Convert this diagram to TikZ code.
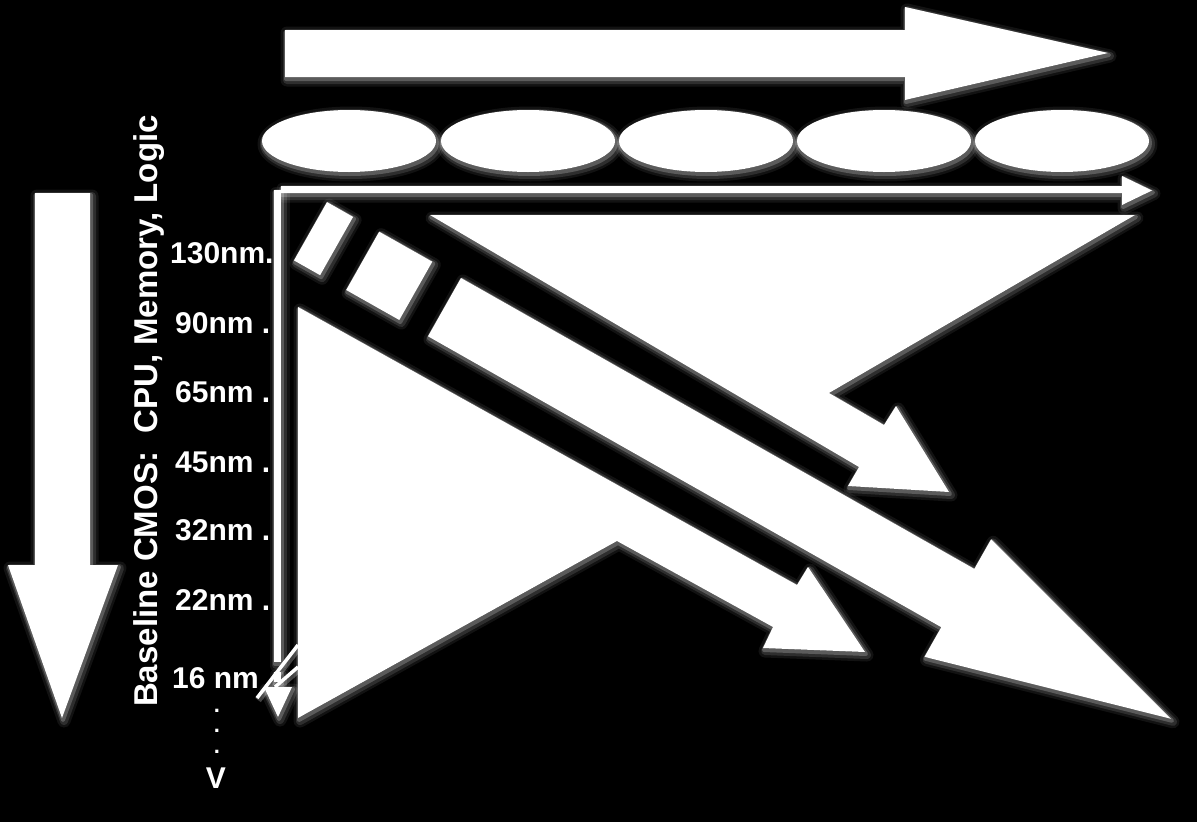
\documentclass[tikz,border=0pt]{standalone}
\usepackage{fontspec}
\setmainfont{Liberation Sans}
\usetikzlibrary{shapes.geometric}
\newcommand\myshapes[1]{%
  % top block arrow
  \path[#1] (285,30) -- (905,30) -- (905,7) -- (1108,53) -- (905,100) -- (905,77) -- (285,77) -- cycle;
  % left block arrow
  \path[#1] (35,193) -- (90,193) -- (90,565) -- (118,565) -- (62,718) -- (8,565) -- (35,565) -- cycle;
  % ellipses
  \foreach \cx in {349,528,706,884,1062}{\path[#1] (\cx,141) ellipse [x radius=87, y radius=31];}
  % horizontal axis arrow
  \path[#1] (281,186) -- (1122,186) -- (1122,176) -- (1152,190.5) -- (1122,205) -- (1122,193) -- (281,193) -- cycle;
  % vertical axis arrow
  \path[#1] (274,190) rectangle (281,662);
  \path[#1] (274,672) rectangle (281,682);
  \path[#1] (264,687) -- (292,687) -- (278,717) -- cycle;
  % upper region with arrow A
  \path[#1] (430,215) -- (1135,215) -- (829,393) -- (884,425) -- (896,406) -- (949,492) -- (848,486) -- (859,467) -- cycle;
  % dashes of arrow C
  \path[#1] (327.0,202.1) -- (353.1,216.9) -- (320.1,275.2) -- (294.0,260.4) -- cycle;
  \path[#1] (379.2,231.7) -- (432.3,261.7) -- (399.3,320.0) -- (346.2,290.0) -- cycle;
  % arrow C
  \path[#1] (461,278) -- (974.3,568.9) -- (991.1,539.3) -- (1171,718.8) -- (924.5,656.8) -- (941.3,627.2) -- (428,336.3) -- cycle;
  % lower region with arrow B
  \path[#1] (298,307) -- (797,585) -- (808,567) -- (865,652) -- (763,648) -- (773,627) -- (617,541) -- (298,718) -- cycle;
}
\newcommand\mylines[1]{%
  \path[#1] (298,645) -- (257,698);
  \path[#1] (298,667) -- (275,687);
}
\begin{document}
\begin{tikzpicture}[x=1pt,y=-1pt,
  shp/.style={fill=white},
  glowA/.style={draw=white, draw opacity=0.07, line width=13pt, line join=round, shift={(2,3)}},
  glowB/.style={draw=white, draw opacity=0.12, line width=8pt, line join=round, shift={(2,3)}},
  glowC/.style={draw=white, draw opacity=0.22, line width=4pt, line join=round, shift={(1,2)}},
  lineglow/.style={draw=white, draw opacity=0.25, line width=7pt, shift={(1,2)}},
  linew/.style={draw=white, line width=3.5pt},
  lbl/.style={text=white, font=\fontsize{30}{36}\selectfont\bfseries, inner sep=0pt}
]
\useasboundingbox (0,0) rectangle (1197,822);
\fill[black] (0,0) rectangle (1197,822);
\myshapes{glowA}
\myshapes{glowB}
\myshapes{glowC}
\mylines{lineglow}
\myshapes{shp}
\mylines{linew}
% labels
\node[lbl, anchor=base west] (l130) at (170,263) {130nm.};
\node[lbl, anchor=base west] (l90) at (175,333) {90nm .};
\node[lbl, anchor=base west] (l65) at (175,402) {65nm .};
\node[lbl, anchor=base west] (l45) at (175,472) {45nm .};
\node[lbl, anchor=base west] (l32) at (175,540) {32nm .};
\node[lbl, anchor=base west] (l22) at (175,610) {22nm .};
\node[lbl, anchor=base west] (l16) at (172,688) {16 nm};
\node[lbl, align=center, font=\fontsize{22}{20.5}\selectfont\bfseries, anchor=base] (dots) at (217,753) {.\\.\\.};
\node[lbl, anchor=base] (vv) at (216,788) {V};
\node[lbl, anchor=base, rotate=90, font=\fontsize{33}{40}\selectfont\bfseries] (cmos) at (157,411) {Baseline CMOS:\ \ CPU, Memory, Logic};
\end{tikzpicture}
\end{document}
